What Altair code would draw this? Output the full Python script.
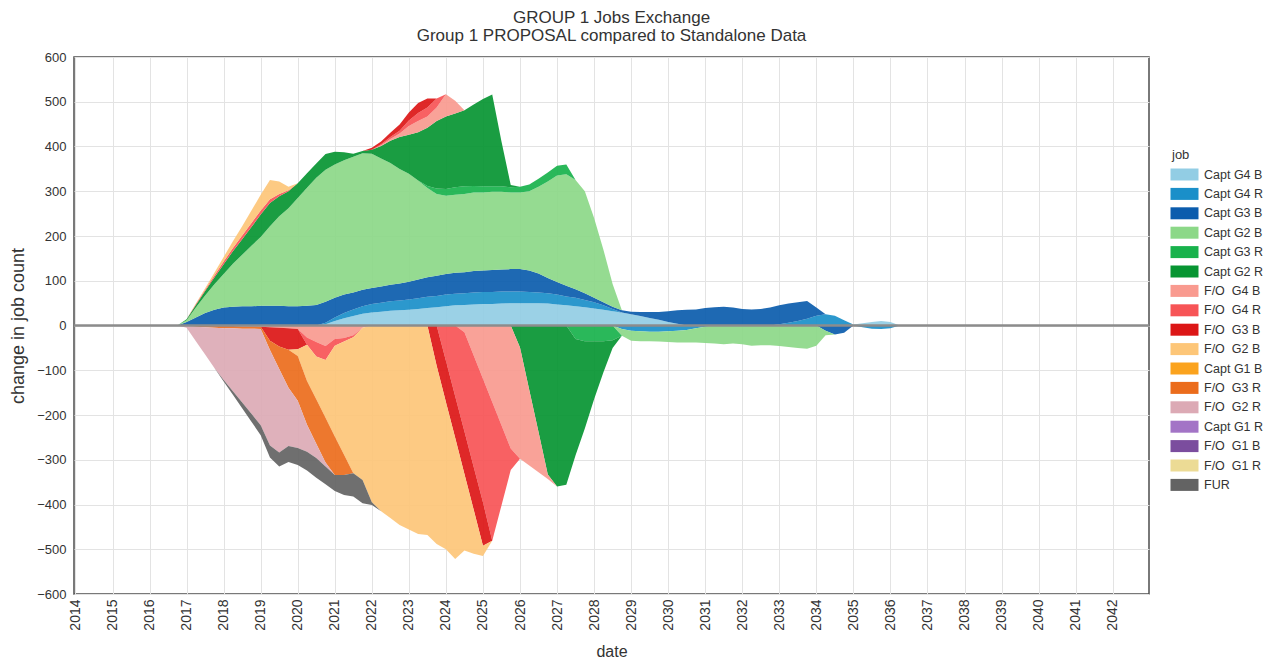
import altair as alt
import pandas as pd

# ---- categories (legend order = stacking order, nearest zero first) ----
jobs = [
    "Capt G4 B", "Capt G4 R", "Capt G3 B", "Capt G2 B", "Capt G3 R", "Capt G2 R",
    "F/O\u00a0 G4 B", "F/O\u00a0 G4 R", "F/O\u00a0 G3 B", "F/O\u00a0 G2 B", "Capt G1 B",
    "F/O\u00a0 G3 R", "F/O\u00a0 G2 R", "Capt G1 R", "F/O\u00a0 G1 B", "F/O\u00a0 G1 R", "FUR",
]
colors = [
    "#92cde4", "#1a8fc9", "#0b5cad", "#8cd888", "#18b24c", "#079532",
    "#f99a8f", "#f75456", "#dc1616", "#fdc678", "#fba31e",
    "#eb6c1c", "#dcaab5", "#a374c6", "#7b4d9e", "#ecdb95", "#636363",
]

# ---- time grid: quarterly, 2016.75 ... 2036.25 ----
quarters = [2016.75 + 0.25 * k for k in range(79)]

# values per job (change in job count), one per quarter
# line1: 2016.75, 2017 x4, 2018 x4, 2019 x4 | line2: 2020-2023 | line3: 2024-2027 | line4: 2028-2031 | line5: 2032-2035 | line6: 2036.0, 2036.25
capt_g4_b = [0, 0, 0, 0, 0, 0, 0, 0, 0, 0, 0, 0, 0,
             0, 0, 0, 3, 10, 16, 21, 26, 29, 31, 33, 34, 35, 37, 39, 41,
             43, 45, 46, 47, 48, 48, 49, 50, 50, 50, 50, 49, 47, 45, 43, 41,
             38, 35, 32, 29, 25, 21, 17, 13, 8, 4, 0, 0, 0, 0, 0, 0,
             0, 0, 0, 0, 0, 0, 0, 0, 0, 0, 0, 0, 2, 5, 8, 10,
             8, 0]
capt_g4_r = [0, 0, 0, 0, 0, 0, 0, 0, 0, 0, 0, 0, 0,
             0, 0, 0, 3, 8, 12, 15, 17, 19, 20, 21, 22, 23, 24, 25, 25,
             26, 26, 26, 27, 27, 27, 27, 26, 26, 25, 24, 23, 22, 20, 19, 16,
             14, 10, 5, -8, -12, -13, -14, -14, -13, -12, -10, -6, -3, 0, 0, 0,
             0, 0, 0, 0, 3, 6, 10, 15, 22, 25, 22, 12, 0, -4, -7, -8,
             -6, 0]
capt_g3_b = [0, 8, 18, 28, 35, 40, 42, 43, 43, 44, 44, 44, 43,
             43, 44, 46, 47, 44, 41, 38, 37, 36, 36, 37, 38, 40, 42, 44, 45,
             46, 47, 47, 48, 48, 49, 49, 50, 50, 48, 42, 34, 28, 24, 19, 15,
             10, 7, 5, 5, 6, 9, 13, 17, 24, 30, 35, 36, 39, 41, 42, 40,
             37, 36, 37, 40, 42, 43, 42, 40, 18, -12, -20, -16, 0, 0, 0, 0,
             0, 0]
capt_g2_b = [0, 4, 22, 39, 57, 75, 96, 115, 135, 154, 178, 200, 219,
             242, 264, 284, 295, 298, 300, 303, 305, 300, 286, 272, 256, 241, 221, 199, 183,
             175, 174, 175, 175, 174, 175, 174, 171, 171, 177, 194, 216, 238, 249, 244, 228,
             178, 118, 51, -15, -22, -22, -21, -22, -24, -26, -28, -32, -36, -40, -42, -40,
             -42, -45, -44, -44, -46, -48, -50, -52, -45, -10, 0, 0, 0, 0, 0, 0,
             0, 0]
capt_g3_r = [0, 0, 0, 0, 0, 0, 0, 0, 0, 0, 0, 0, 0,
             0, 0, 0, 0, 0, 0, 0, 0, 0, 0, 0, 0, 0, 0, 5, 12,
             15, 17, 17, 15, 14, 12, 12, 12, 13, 15, 18, 20, 22, 22, -30, -35,
             -35, -35, -33, 0, 0, 0, 0, 0, 0, 0, 0, 0, 0, 0, 0, 0,
             0, 0, 0, 0, 0, 0, 0, 0, 0, 0, 0, 0, 0, 0, 0, 0,
             0, 0]
capt_g2_r = [0, 2, 6, 10, 15, 22, 28, 35, 42, 50, 52, 45, 38,
             33, 32, 32, 35, 28, 18, 7, 5, 9, 28, 50, 71, 87, 108, 130, 151,
             162, 165, 170, 182, 195, 205, 100, 5, -49, -144, -238, -333, -360, -356, -260, -195,
             -130, -70, -17, 0, 0, 0, 0, 0, 0, 0, 0, 0, 0, 0, 0, 0,
             0, 0, 0, 0, 0, 0, 0, 0, 0, 0, 0, 0, 0, 0, 0, 0,
             0, 0]
fo_g4_b = [0, 0, 0, 0, 0, -1, -1, -2, -2, -3, -4, -5, -6,
           -8, -27, -37, -46, -30, -28, -22, -5, 0, 2, 4, 8, 20, 25, 25, 30,
           50, 28, -15, -67, -119, -171, -223, -275, -249, -169, -90, -10, 0, 0, 0, 0,
           0, 0, 0, 0, 0, 0, 0, 0, 0, 0, 0, 0, 0, 0, 0, 0,
           0, 0, 0, 0, 0, 0, 0, 0, 0, 0, 0, 0, 0, 0, 0, 0,
           0, 0]
fo_g4_r = [0, 0, 2, 3, 5, 6, 7, 8, 9, 9, 8, 5, 2,
           0, -16, -32, -31, -15, -8, -4, 0, 0, 2, 4, 6, 12, 18, 20, 20,
           -79, -158, -222, -249, -276, -310, -179, -48, 0, 0, 0, 0, 0, 0, 0, 0,
           0, 0, 0, 0, 0, 0, 0, 0, 0, 0, 0, 0, 0, 0, 0, 0,
           0, 0, 0, 0, 0, 0, 0, 0, 0, 0, 0, 0, 0, 0, 0, 0,
           0, 0]
fo_g3_b = [0, 0, 0, 0, 0, 0, 0, 0, 0, 0, -30, -42, -48,
           -45, 0, 0, 0, 0, 0, 0, 0, 4, 6, 10, 14, 18, 22, 20, -90,
           -92, -93, -95, -96, -97, 0, 0, 0, 0, 0, 0, 0, 0, 0, 0, 0,
           0, 0, 0, 0, 0, 0, 0, 0, 0, 0, 0, 0, 0, 0, 0, 0,
           0, 0, 0, 0, 0, 0, 0, 0, 0, 0, 0, 0, 0, 0, 0, 0,
           0, 0]
fo_g2_b = [0, 0, 1, 3, 6, 10, 15, 21, 28, 35, 43, 28, 8,
           -15, -81, -96, -129, -203, -253, -304, -340, -395, -415, -430, -446, -456, -466, -468, -398,
           -329, -271, -171, -98, -23, 0, 0, 0, 0, 0, 0, 0, 0, 0, 0, 0,
           0, 0, 0, 0, 0, 0, 0, 0, 0, 0, 0, 0, 0, 0, 0, 0,
           0, 0, 0, 0, 0, 0, 0, 0, 0, 0, 0, 0, 0, 0, 0, 0,
           0, 0]
capt_g1_b = [0] * 79
fo_g3_r = [0, -1, -3, -4, -5, -5, -5, -5, -5, -5, -21, -50, -85,
           -100, -98, -99, -100, -86, -45, 0, 0, 0, 0, 0, 0, 0, 0, 0, 0,
           0, 0, 0, 0, 0, 0, 0, 0, 0, 0, 0, 0, 0, 0, 0, 0,
           0, 0, 0, 0, 0, 0, 0, 0, 0, 0, 0, 0, 0, 0, 0, 0,
           0, 0, 0, 0, 0, 0, 0, 0, 0, 0, 0, 0, 0, 0, 0, 0,
           0, 0]
fo_g2_r = [0, -4, -32, -61, -90, -116, -141, -165, -190, -215, -213, -187, -130,
           -106, -60, -32, -9, 0, 0, 0, 0, 0, 0, 0, 0, 0, 0, 0, 0,
           0, 0, 0, 0, 0, 0, 0, 0, 0, 0, 0, 0, 0, 0, 0, 0,
           0, 0, 0, 0, 0, 0, 0, 0, 0, 0, 0, 0, 0, 0, 0, 0,
           0, 0, 0, 0, 0, 0, 0, 0, 0, 0, 0, 0, 0, 0, 0, 0,
           0, 0]
capt_g1_r = [0] * 79
fo_g1_b = [0] * 79
fo_g1_r = [0] * 79
fur = [0, 0, 0, 0, 0, -3, -8, -13, -18, -22, -27, -31, -36,
       -38, -42, -44, -40, -36, -45, -52, -52, -6, 0, 0, 0, 0, 0, 0, 0,
       0, 0, 0, 0, 0, 0, 0, 0, 0, 0, 0, 0, 0, 0, 0, 0,
       0, 0, 0, 0, 0, 0, 0, 0, 0, 0, 0, 0, 0, 0, 0, 0,
       0, 0, 0, 0, 0, 0, 0, 0, 0, 0, 0, 0, 0, 0, 0, 0,
       0, 0]

series = [capt_g4_b, capt_g4_r, capt_g3_b, capt_g2_b, capt_g3_r, capt_g2_r,
          fo_g4_b, fo_g4_r, fo_g3_b, fo_g2_b, capt_g1_b,
          fo_g3_r, fo_g2_r, capt_g1_r, fo_g1_b, fo_g1_r, fur]

year_ticks = list(range(2014, 2043))
count_ticks = list(range(-600, 601, 100))

# ---- long table: positive and negative parts stacked separately ----
# (a tiny negative stands in for an empty negative part so that it stays in the negative stack)
EPS = 1e-9
rows = []
for j, (job, vals) in enumerate(zip(jobs, series)):
    for t, v in zip(quarters, vals):
        rows.append({"year": t, "job": job, "rank": j, "part": "pos", "count": max(v, 0)})
        rows.append({"year": t, "job": job, "rank": j, "part": "neg",
                     "count": v if v < 0 else -EPS})
df = pd.DataFrame(rows)

FONT = "Liberation Sans"
y_axis = alt.Axis(values=count_ticks, labelFontSize=13, labelPadding=8,
                  title="change in job count", titleFontSize=18, titlePadding=9)

areas = alt.Chart(df).mark_area(interpolate="linear", opacity=0.92).encode(
    x=alt.X("year:Q",
            scale=alt.Scale(domain=[2013.96, 2042.98], nice=False, zero=False),
            axis=alt.Axis(values=year_ticks, format="d", labelAngle=270, labelFontSize=14,
                          labelPadding=5, title="date", titleFontSize=16, titlePadding=13)),
    y=alt.Y("count:Q", stack="zero",
            scale=alt.Scale(domain=[-600, 600], nice=False),
            axis=y_axis),
    color=alt.Color("job:N", sort=jobs,
                    scale=alt.Scale(domain=jobs, range=colors),
                    legend=alt.Legend(title="job", orient="none", legendX=1098, legendY=92,
                                      symbolType="M-1.129,-0.484H1.129V0.484H-1.129Z",
                                      symbolSize=615,
                                      symbolStrokeWidth=0, symbolOpacity=1,
                                      labelFontSize=12.5, labelOffset=7, labelColor="#333333",
                                      titleFontSize=13, titleFontWeight="normal",
                                      titleColor="#333333", titlePadding=0, rowPadding=0.4)),
    order=alt.Order("rank:Q", sort="ascending"),
    detail="part:N",
)

zero_line = alt.Chart(pd.DataFrame({"count": [0]})).mark_rule(
    color="#8c8c8c", strokeWidth=2.5
).encode(y=alt.Y("count:Q", axis=y_axis))

chart = alt.layer(areas, zero_line).properties(
    width=1075, height=537,
    title=alt.TitleParams(["GROUP 1 Jobs Exchange", "Group 1 PROPOSAL compared to Standalone Data"],
                          fontSize=17, fontWeight="normal", color="#333333", anchor="middle",
                          frame="group", lineHeight=18, offset=6, font=FONT),
    autosize=alt.AutoSizeParams(type="none"),
    padding={"left": 66, "top": 49, "right": 121, "bottom": 68},
).configure(font=FONT).configure_axis(
    labelColor="#333333", titleColor="#333333", titleFontWeight="normal",
    gridColor="#e3e3e3", gridWidth=1, domain=False, ticks=False, labelFont=FONT, titleFont=FONT,
).configure_view(stroke="#4d4d4d", strokeWidth=1.5)

chart.save("out.html", embed_options={"renderer": "svg", "actions": False})
